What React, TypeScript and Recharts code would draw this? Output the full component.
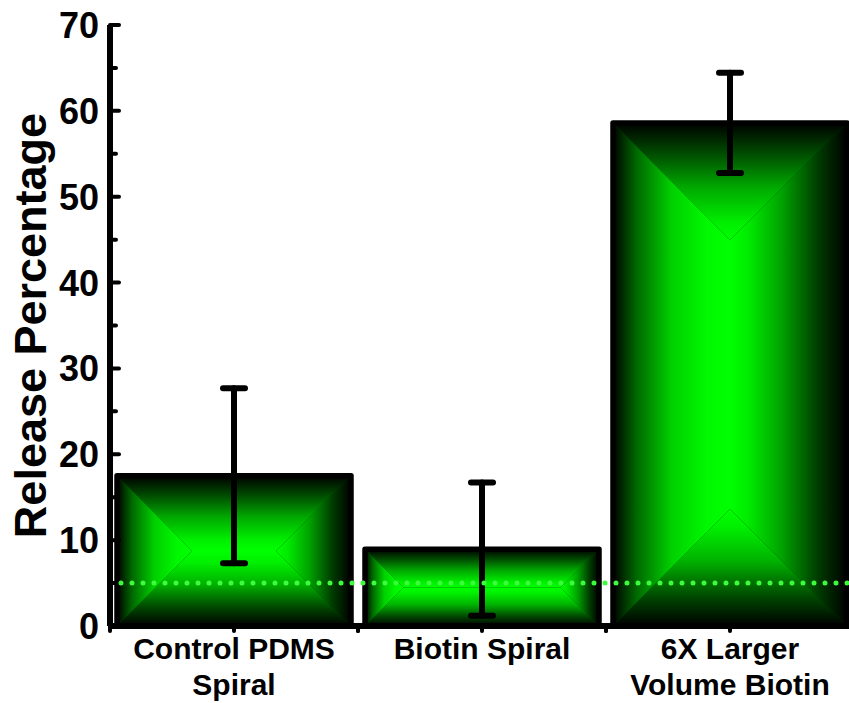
import React from "react";
import {
  BarChart,
  Bar,
  XAxis,
  YAxis,
  ErrorBar,
  ReferenceLine,
} from "recharts";

const categories = ["Control PDMS\nSpiral", "Biotin Spiral", "6X Larger\nVolume Biotin"];
const releasePct = [17.5, 8.95, 58.6];
const releaseErr = [10.2, 7.75, 5.85];
const thresholdPct = 5;
const yMajorTicks = [0, 10, 20, 30, 40, 50, 60, 70];
const yMinorTicks = [5, 15, 25, 35, 45, 55, 65];

const data = categories.map((name, i) => ({
  name,
  value: releasePct[i],
  err: releaseErr[i],
}));

const allYTicks = [...yMajorTicks, ...yMinorTicks].sort((a, b) => a - b);

const FONT = "'Liberation Sans', Arial, Helvetica, sans-serif";
const GREEN = "#00ff00";

// box ("pyramid") gradient: black edges fading to bright green in the middle
function GlowBar(props: any) {
  const { x, y, width, height } = props;
  if (!width || !height || height <= 0) return null;
  const d = Math.min(width, height) / 2;
  const x2 = x + width;
  const y2 = y + height;
  const pts = (arr: number[][]) => arr.map((p) => p.join(",")).join(" ");
  return (
    <g>
      <rect x={x} y={y} width={width} height={height} fill="#003000" />
      <polygon fill="url(#gTop)" points={pts([[x, y], [x2, y], [x2 - d, y + d], [x + d, y + d]])} />
      <polygon fill="url(#gBottom)" points={pts([[x, y2], [x2, y2], [x2 - d, y2 - d], [x + d, y2 - d]])} />
      <polygon fill="url(#gLeft)" points={pts([[x, y], [x + d, y + d], [x + d, y2 - d], [x, y2]])} />
      <polygon fill="url(#gRight)" points={pts([[x2, y], [x2 - d, y + d], [x2 - d, y2 - d], [x2, y2]])} />
      <rect x={x} y={y} width={width} height={height} fill="none" stroke="#000" strokeWidth={5.5} strokeLinejoin="round" />
    </g>
  );
}

function LeftTick(props: any) {
  const { x, y, payload } = props;
  const major = payload.value % 10 === 0;
  const ax = x + 11;
  return (
    <g>
      <line x1={ax} y1={y} x2={ax + (major ? 9 : 6)} y2={y} stroke="#000" strokeWidth={4} strokeLinecap="round" />
      {major && (
        <text x={x} y={y} dy="0.36em" textAnchor="end" fontFamily={FONT} fontWeight="bold" fontSize={36} fill="#000">
          {payload.value}
        </text>
      )}
    </g>
  );
}

function RightTick(props: any) {
  const { x, y, payload } = props;
  const major = payload.value % 10 === 0;
  return <line x1={x} y1={y} x2={x - (major ? 9 : 6)} y2={y} stroke="#000" strokeWidth={4} strokeLinecap="round" />;
}

function BottomTick(props: any) {
  const { x, y, payload } = props;
  const half = payload.offset || 124;
  const lines = String(payload.value).split("\n");
  return (
    <g>
      {[x - half, x, x + half].map((tx, i) => (
        <line key={i} x1={tx} y1={y} x2={tx} y2={y + 5} stroke="#000" strokeWidth={4} strokeLinecap="round" />
      ))}
      <text x={x} y={y + 33} textAnchor="middle" fontFamily={FONT} fontWeight="bold" fontSize={30} fill="#000">
        {lines.map((l, i) => (
          <tspan key={i} x={x} dy={i === 0 ? 0 : 36}>
            {l}
          </tspan>
        ))}
      </text>
    </g>
  );
}

function TopTick(props: any) {
  const { x, y, payload } = props;
  const half = payload.offset || 124;
  return (
    <g>
      {[x - half, x, x + half].map((tx, i) => (
        <line key={i} x1={tx} y1={y} x2={tx} y2={y + 6} stroke="#000" strokeWidth={4} strokeLinecap="round" />
      ))}
    </g>
  );
}

export default function App() {
  const axisLine = { stroke: "#000", strokeWidth: 6 };
  return (
    <div style={{ position: "absolute", left: 0, top: 0, width: 849, height: 703, overflow: "hidden", background: "#fff" }}>
      <BarChart
        width={870}
        height={703}
        data={data}
        margin={{ top: 25, right: 16, left: 0, bottom: 0 }}
        barCategoryGap={7}
      >
        <defs>
          <linearGradient id="gTop" x1="0" y1="0" x2="0" y2="1">
            <stop offset="0%" stopColor="#000" />
            <stop offset="25%" stopColor="#004800" />
            <stop offset="55%" stopColor="#00a800" />
            <stop offset="85%" stopColor="#00ee00" />
            <stop offset="100%" stopColor={GREEN} />
          </linearGradient>
          <linearGradient id="gBottom" x1="0" y1="1" x2="0" y2="0">
            <stop offset="0%" stopColor="#000" />
            <stop offset="25%" stopColor="#004800" />
            <stop offset="55%" stopColor="#00b000" />
            <stop offset="85%" stopColor="#00f000" />
            <stop offset="100%" stopColor={GREEN} />
          </linearGradient>
          <linearGradient id="gLeft" x1="0" y1="0" x2="1" y2="0">
            <stop offset="0%" stopColor="#000" />
            <stop offset="20%" stopColor="#006800" />
            <stop offset="50%" stopColor="#00d000" />
            <stop offset="80%" stopColor="#00f800" />
            <stop offset="100%" stopColor={GREEN} />
          </linearGradient>
          <linearGradient id="gRight" x1="1" y1="0" x2="0" y2="0">
            <stop offset="0%" stopColor="#000" />
            <stop offset="25%" stopColor="#003c00" />
            <stop offset="55%" stopColor="#00a000" />
            <stop offset="85%" stopColor="#00ec00" />
            <stop offset="100%" stopColor={GREEN} />
          </linearGradient>
        </defs>
        <XAxis
          dataKey="name"
          height={77}
          axisLine={axisLine}
          tickLine={false}
          tickSize={0}
          tickMargin={0}
          interval={0}
          tick={<BottomTick />}
        />
        <XAxis
          xAxisId="top"
          dataKey="name"
          orientation="top"
          height={0}
          axisLine={axisLine}
          tickLine={false}
          tickSize={0}
          tickMargin={0}
          interval={0}
          tick={<TopTick />}
        />
        <YAxis
          domain={[0, 70]}
          ticks={allYTicks}
          interval={0}
          width={110}
          axisLine={axisLine}
          tickLine={false}
          tickSize={0}
          tickMargin={11}
          tick={<LeftTick />}
          label={{
            value: "Release Percentage",
            angle: -90,
            position: "center",
            dx: -25,
            style: { fontFamily: FONT, fontWeight: "bold", fontSize: 45, fill: "#000" },
          }}
        />
        <YAxis
          yAxisId="right"
          orientation="right"
          domain={[0, 70]}
          ticks={allYTicks}
          interval={0}
          width={0}
          axisLine={axisLine}
          tickLine={false}
          tickSize={0}
          tickMargin={0}
          tick={<RightTick />}
        />
        <Bar dataKey="value" shape={<GlowBar />} isAnimationActive={false}>
          <ErrorBar
            dataKey="err"
            direction="y"
            width={11}
            stroke="#000"
            strokeWidth={6}
            strokeLinecap="round"
            isAnimationActive={false}
          />
        </Bar>
        <ReferenceLine
          y={thresholdPct}
          stroke="#3dfb3d"
          strokeWidth={5}
          strokeDasharray="0 11"
          strokeLinecap="round"
        />
      </BarChart>
    </div>
  );
}
